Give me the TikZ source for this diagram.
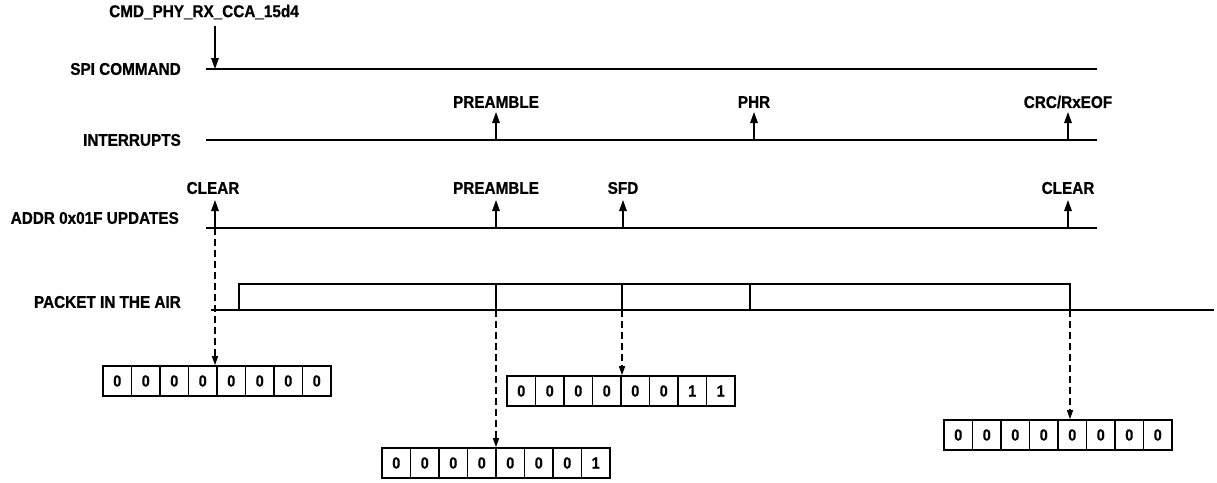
\documentclass[tikz,border=0pt]{standalone}
\usepackage{fontspec}
\setmainfont{Liberation Sans}[FakeStretch=0.9,BoldFeatures={FakeStretch=0.9,FakeBold=0.8}]
\usetikzlibrary{arrows.meta}
\begin{document}
\begin{tikzpicture}[x=1pt,y=-1pt,
  sig/.style={line width=2.2pt},
  evarrow/.style={line width=1.5pt,-{Triangle[length=11pt,width=7.5pt]}},
  dasharrow/.style={line width=1.2pt,dash pattern=on 7pt off 4pt,-{Triangle[length=9pt,width=6pt]}},
  lbl/.style={font=\bfseries\fontsize{17}{20}\selectfont,inner sep=0pt},
  cell/.style={draw,line width=1.6pt,minimum width=28.5pt,minimum height=30pt,inner sep=0pt,
    font=\bfseries\fontsize{16}{19}\selectfont}]
\useasboundingbox (0,0) rectangle (1217,482);
\newcommand\regrow[4]{%
  \foreach \b [count=\i] in {#4}
    \node[cell] (#1-\i) at ({#2+(\i-0.5)*28.5},#3) {\b};}

% signal labels
\node[lbl,anchor=east] (lspi) at (181,69) {SPI COMMAND};
\node[lbl,anchor=east] (lint) at (181,140) {INTERRUPTS};
\node[lbl,anchor=east] (ladr) at (179,218) {ADDR 0x01F UPDATES};
\node[lbl,anchor=east] (lpkt) at (181,302) {PACKET IN THE AIR};

% signal lines
\coordinate (spiA) at (206,69);   \coordinate (spiB) at (1097,69);
\coordinate (intA) at (206,140);  \coordinate (intB) at (1097,140);
\coordinate (adrA) at (206,228);  \coordinate (adrB) at (1097,228);
\draw[sig] (spiA) -- (spiB);
\draw[sig] (intA) -- (intB);
\draw[sig] (adrA) -- (adrB);

% SPI command
\node[lbl] (cmd) at (204,12) {CMD\_PHY\_RX\_CCA\_15d4};
\coordinate (spiHit) at (215,69);
\draw[evarrow] (215,26) -- (spiHit);

% interrupts
\node[lbl] (iPre) at (496,102) {PREAMBLE};
\node[lbl] (iPhr) at (754,102) {PHR};
\node[lbl] (iCrc) at (1068,102) {CRC/RxEOF};
\coordinate (iPreL) at (496,140);
\coordinate (iPhrL) at (754,140);
\coordinate (iCrcL) at (1068,140);
\draw[evarrow] (iPreL) -- ++(0,-28);
\draw[evarrow] (iPhrL) -- ++(0,-28);
\draw[evarrow] (iCrcL) -- ++(0,-28);

% address updates
\node[lbl] (aClr) at (213,188) {CLEAR};
\node[lbl] (aPre) at (496,188) {PREAMBLE};
\node[lbl] (aSfd) at (623,188) {SFD};
\node[lbl] (aClr2) at (1068,188) {CLEAR};
\coordinate (aClrL) at (215,228);
\coordinate (aPreL) at (496,228);
\coordinate (aSfdL) at (623,228);
\coordinate (aClr2L) at (1068,228);
\draw[evarrow] (aClrL) -- ++(0,-28);
\draw[evarrow] (aPreL) -- ++(0,-28);
\draw[evarrow] (aSfdL) -- ++(0,-28);
\draw[evarrow] (aClr2L) -- ++(0,-28);

% packet in the air
\coordinate (pA) at (211,310);
\coordinate (pB) at (1214,310);
\coordinate (pS) at (239,310);
\coordinate (pE) at (1070,284);
\coordinate (d1) at (496,310);
\coordinate (d2) at (622,310);
\coordinate (d3) at (750,310);
\coordinate (pEnd) at (1070,310);
\draw[sig] (pA) -- (pB);
\draw[sig] (pS) |- (pE) -- (pEnd);
\draw[sig] (d1) -- ++(0,-26);
\draw[sig] (d2) -- ++(0,-26);
\draw[sig] (d3) -- ++(0,-26);

% registers
\regrow{r1}{103}{381}{0,0,0,0,0,0,0,0}
\regrow{r2}{382}{463}{0,0,0,0,0,0,0,1}
\regrow{r3}{507}{391}{0,0,0,0,0,0,1,1}
\regrow{r4}{944}{435}{0,0,0,0,0,0,0,0}

% dashed connectors
\draw[dasharrow] (aClrL) -- (aClrL |- r1-1.north);
\draw[dasharrow] (d1) -- (d1 |- r2-1.north);
\draw[dasharrow] (d2) -- (d2 |- r3-1.north);
\draw[dasharrow] (pEnd) -- (pEnd |- r4-1.north);
\end{tikzpicture}
\end{document}
